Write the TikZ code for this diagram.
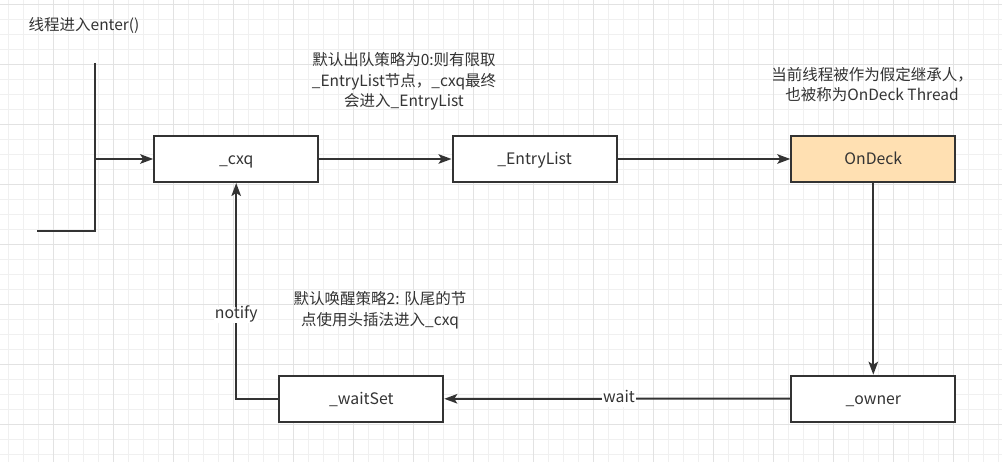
\documentclass[tikz,border=0pt]{standalone}
\usepackage{fontspec}
\setmainfont{Noto Sans CJK SC}
\usetikzlibrary{arrows.meta}
\definecolor{ink}{HTML}{333333}
\definecolor{gridminor}{HTML}{F0F0F0}
\definecolor{gridmajor}{HTML}{E2E2E2}
\definecolor{deck}{RGB}{255,224,178}
\tikzset{
  box/.style={draw=ink, line width=2pt, fill=white, minimum width=164pt, minimum height=46pt, inner sep=0pt, text=ink, text height=12pt, text depth=0pt, font=\fontsize{15.8}{20.5}\selectfont},
  conn/.style={draw=ink, line width=2pt, -{Stealth[length=13pt,width=9.5pt,inset=3pt]}},
  plain/.style={draw=ink, line width=2pt},
  note/.style={text=ink, align=center, inner sep=0pt, font=\fontsize{15.5}{20.5}\selectfont},
  elabel/.style={fill=white, text=ink, inner sep=1pt, text height=11pt, text depth=3pt, font=\fontsize{15.8}{20.5}\selectfont}
}
\begin{document}
\begin{tikzpicture}[x=1pt,y=-1pt]
\useasboundingbox (0,0) rectangle (1002,462);
\fill[white] (0,0) rectangle (1002,462);
% grid
\foreach \k in {0,...,66} {\draw[gridminor, line width=1pt] (8.3+15*\k,0) -- (8.3+15*\k,462);}
\foreach \k in {0,...,30} {\draw[gridminor, line width=1pt] (0,4.3+15*\k) -- (1002,4.3+15*\k);}
\foreach \k in {-1,...,16} {\draw[gridmajor, line width=1pt] (53.3+60*\k,0) -- (53.3+60*\k,462);}
\foreach \k in {0,...,7} {\draw[gridmajor, line width=1pt] (0,4.3+60*\k) -- (1002,4.3+60*\k);}

% nodes
\node[box] (cxq) at (236.2,159) {\_cxq};
\node[box] (entry) at (534.5,159) {\_EntryList};
\node[box, fill=deck] (deck) at (873.3,159) {OnDeck};
\node[box] (owner) at (873.3,398.7) {\_owner};
\node[box] (wait) at (361.3,398.8) {\_waitSet};

% entry bracket
\coordinate (e1) at (95,63);
\coordinate (e2) at (95,230.7);
\coordinate (e3) at (37,230.7);
\coordinate (e4) at (95,159);
\draw[plain] (e1) -- (e2) -- (e3);
\draw[conn] (e4) -- (cxq.west);

% connectors
\draw[conn] (cxq.east) -- (entry.west);
\draw[conn] (entry.east) -- (deck.west);
\draw[conn] (deck.south) -- (owner.north);
\draw[conn] (owner.west) -- node[elabel, pos=0.495] {wait} (wait.east);
\draw[conn] (wait.west) -| node[elabel, pos=0.695] {notify} (cxq.south);

% notes
\node[note, anchor=west] (t0) at (28.5,25.5) {线程进入enter()};
\node[note] (t1) at (404,81.5) {默认出队策略为0:则有限取\\\_EntryList节点，\_cxq最终\\会进入\_EntryList};
\node[note] (t2) at (872,84.5) {当前线程被作为假定继承人，\\也被称为OnDeck Thread};
\node[note] (t3) at (380,310) {默认唤醒策略2: 队尾的节\\点使用头插法进入\_cxq};
\end{tikzpicture}
\end{document}
